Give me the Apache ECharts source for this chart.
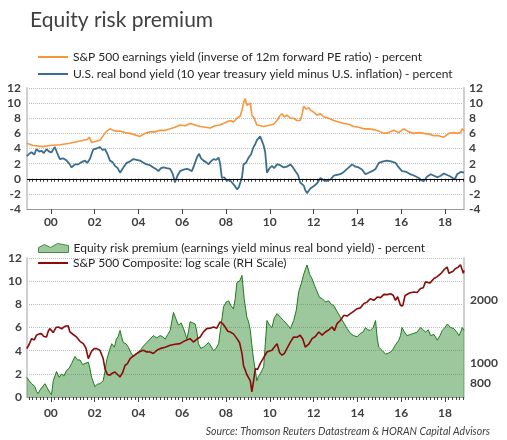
<!DOCTYPE html>
<html>
<head>
<meta charset="utf-8">
<script src="https://cdn.jsdelivr.net/npm/echarts@6/dist/echarts.min.js"></script>
<style>
html, body { margin: 0; padding: 0; background: #fff; }
#main { width: 507px; height: 440px; }
</style>
</head>
<body>
<div id="main"></div>
<script>
// S&P 500 earnings yield (percent)
var egYears = [1998.90,1999.19,1999.65,1999.95,2000.03,2000.41,2000.87,2001.33,2001.66,2001.75,2001.86,2001.94,2002.24,2002.47,2002.55,2002.70,2002.93,2003.16,2003.39,2003.62,2003.84,2004.07,2004.30,2004.53,2004.76,2004.99,2005.22,2005.45,2005.67,2005.90,2006.13,2006.36,2006.59,2006.82,2007.05,2007.28,2007.50,2007.73,2007.96,2008.19,2008.34,2008.50,2008.65,2008.73,2008.83,2008.88,2008.95,2009.03,2009.11,2009.18,2009.29,2009.41,2009.56,2009.72,2009.87,2010.02,2010.17,2010.33,2010.45,2010.56,2010.66,2010.78,2010.94,2011.09,2011.24,2011.39,2011.48,2011.55,2011.67,2011.78,2011.85,2012.00,2012.16,2012.31,2012.46,2012.69,2012.92,2013.15,2013.38,2013.61,2013.83,2014.06,2014.29,2014.52,2014.75,2014.98,2015.21,2015.43,2015.66,2015.89,2016.12,2016.35,2016.58,2016.81,2017.04,2017.28,2017.50,2017.72,2017.95,2018.18,2018.41,2018.56,2018.71,2018.79,2018.87];
var egVals = [4.7,4.4,4.25,4.4,4.2,4.5,4.7,5.0,5.2,5.5,4.8,4.7,5.1,6.0,6.3,6.6,6.3,6.3,6.1,6.0,5.8,5.6,6.0,6.2,6.2,6.4,6.4,6.6,6.8,7.1,7.0,7.3,7.1,6.9,6.8,6.7,7.0,7.1,7.4,7.7,7.5,8.0,8.3,9.1,10.3,10.6,9.7,9.5,10.0,8.4,8.0,7.1,7.0,6.9,7.0,7.1,7.2,7.7,8.3,8.6,8.2,8.4,8.0,8.0,7.7,7.7,8.6,9.6,9.2,9.4,9.1,8.8,8.4,8.6,8.2,8.0,7.7,7.5,7.3,7.2,6.9,6.8,6.6,6.6,6.5,6.3,6.0,6.1,6.4,6.1,6.6,6.2,6.0,6.1,6.0,5.9,5.7,5.7,5.5,6.0,6.1,6.0,6.1,6.6,6.3];

// U.S. real bond yield (percent)
var rbYears = [1998.90,1999.01,1999.12,1999.24,1999.34,1999.47,1999.57,1999.68,1999.80,1999.92,2000.03,2000.18,2000.29,2000.41,2000.56,2000.72,2000.84,2000.95,2001.10,2001.25,2001.40,2001.56,2001.66,2001.78,2001.94,2002.09,2002.24,2002.36,2002.47,2002.58,2002.70,2002.82,2002.93,2003.05,2003.16,2003.31,2003.46,2003.62,2003.77,2003.92,2004.07,2004.23,2004.38,2004.53,2004.68,2004.80,2004.91,2005.03,2005.14,2005.29,2005.45,2005.57,2005.67,2005.78,2005.90,2006.06,2006.21,2006.33,2006.44,2006.56,2006.67,2006.77,2006.86,2006.97,2007.09,2007.20,2007.31,2007.43,2007.55,2007.66,2007.73,2007.81,2007.92,2008.04,2008.16,2008.27,2008.39,2008.50,2008.59,2008.65,2008.73,2008.80,2008.91,2009.03,2009.14,2009.26,2009.34,2009.41,2009.49,2009.56,2009.64,2009.72,2009.79,2009.87,2009.99,2010.10,2010.20,2010.33,2010.48,2010.63,2010.78,2010.94,2011.06,2011.17,2011.29,2011.39,2011.55,2011.62,2011.70,2011.85,2012.00,2012.16,2012.31,2012.46,2012.61,2012.77,2012.92,2013.07,2013.22,2013.38,2013.53,2013.65,2013.76,2013.91,2014.06,2014.22,2014.37,2014.52,2014.67,2014.83,2014.98,2015.18,2015.36,2015.54,2015.74,2015.89,2016.04,2016.24,2016.42,2016.60,2016.81,2016.92,2017.04,2017.19,2017.35,2017.50,2017.65,2017.81,2017.95,2018.10,2018.25,2018.33,2018.44,2018.56,2018.71,2018.87];
var rbVals = [3.0,3.3,3.5,3.2,3.9,3.6,3.7,3.4,3.9,3.6,3.5,4.2,3.4,2.6,2.7,2.4,2.0,1.5,1.9,1.9,2.2,2.4,2.1,2.6,3.9,4.0,4.2,3.8,3.9,3.3,2.4,2.2,1.7,1.4,0.8,1.5,2.1,2.3,2.6,2.5,2.4,2.1,1.9,1.8,1.5,1.3,1.0,1.4,1.5,1.4,1.3,0.6,-0.5,0.4,1.0,1.2,1.3,1.2,1.0,1.9,2.8,3.3,2.7,2.4,2.2,1.9,2.3,2.6,2.5,2.8,2.0,0.1,0.2,-0.3,-0.1,-0.5,-0.9,-1.4,-1.1,-1.0,0.2,1.9,2.1,2.8,3.2,4.2,4.6,5.1,5.3,5.6,5.0,4.4,3.5,0.8,1.4,1.7,1.4,1.9,1.8,1.5,1.6,1.9,1.5,1.0,0.5,-0.5,-0.9,-1.5,-1.9,-1.3,-1.0,-0.6,0.1,-0.2,-0.3,-0.1,0.4,0.5,0.6,0.9,1.3,1.6,1.9,1.6,1.5,1.2,0.6,0.8,1.0,1.3,2.1,2.3,2.4,2.3,2.1,1.5,1.0,0.9,0.6,0.4,0.1,-0.2,-0.3,0.3,0.6,0.4,0.2,0.4,0.7,0.5,0.3,0.1,-0.1,0.6,0.9,0.8];

// Equity risk premium (percent)
var erpYears = [1998.90,1999.01,1999.12,1999.27,1999.34,1999.42,1999.50,1999.57,1999.73,1999.83,1999.95,2000.03,2000.11,2000.26,2000.38,2000.49,2000.59,2000.72,2000.84,2000.95,2001.10,2001.21,2001.33,2001.45,2001.56,2001.71,2001.78,2001.86,2002.01,2002.12,2002.24,2002.39,2002.47,2002.55,2002.67,2002.78,2002.90,2002.99,2003.07,2003.16,2003.23,2003.31,2003.43,2003.54,2003.66,2003.77,2003.92,2004.07,2004.23,2004.38,2004.53,2004.68,2004.84,2004.99,2005.11,2005.22,2005.34,2005.45,2005.52,2005.60,2005.70,2005.83,2005.95,2006.06,2006.15,2006.21,2006.29,2006.36,2006.48,2006.59,2006.67,2006.74,2006.85,2006.97,2007.09,2007.20,2007.31,2007.43,2007.55,2007.66,2007.76,2007.89,2008.01,2008.12,2008.22,2008.34,2008.42,2008.50,2008.62,2008.73,2008.83,2008.95,2009.03,2009.11,2009.18,2009.26,2009.34,2009.41,2009.49,2009.56,2009.64,2009.72,2009.79,2009.87,2009.99,2010.10,2010.20,2010.33,2010.48,2010.63,2010.78,2010.94,2011.09,2011.21,2011.32,2011.44,2011.55,2011.62,2011.70,2011.82,2011.93,2012.05,2012.16,2012.27,2012.39,2012.54,2012.69,2012.81,2012.92,2013.07,2013.22,2013.38,2013.53,2013.68,2013.83,2013.99,2014.14,2014.26,2014.37,2014.47,2014.59,2014.72,2014.83,2014.91,2014.98,2015.14,2015.29,2015.44,2015.59,2015.74,2015.89,2015.97,2016.04,2016.15,2016.27,2016.42,2016.58,2016.73,2016.88,2017.01,2017.11,2017.24,2017.34,2017.50,2017.65,2017.77,2017.88,2018.00,2018.11,2018.26,2018.41,2018.54,2018.64,2018.72,2018.79,2018.87];
var erpVals = [1.7,1.4,1.15,0.9,0.5,0.3,0.6,0.7,1.15,0.8,0.4,0.2,1.4,2.2,1.7,2.0,1.8,2.3,2.5,2.9,3.5,3.2,3.2,2.8,2.9,3.0,2.5,1.7,0.9,1.1,1.15,1.4,2.2,3.2,4.0,4.6,4.3,5.0,5.2,5.75,5.2,4.7,4.6,4.3,3.8,3.5,3.8,4.0,4.4,4.7,5.0,5.3,5.1,5.3,5.2,5.0,5.4,5.75,6.5,7.3,6.8,6.2,6.4,5.9,5.4,5.0,5.7,6.5,6.4,6.3,5.6,4.6,4.2,4.3,4.5,4.7,4.4,4.0,4.2,4.6,6.0,7.8,8.2,8.3,7.9,7.6,8.5,9.9,10.0,10.5,8.5,6.9,6.5,5.75,4.5,3.2,2.3,1.4,1.8,2.0,2.3,2.6,4.5,6.6,6.2,6.0,6.8,7.2,6.9,6.6,6.3,5.9,6.6,7.5,9.1,9.8,10.6,11.0,11.4,10.6,10.2,9.6,9.1,8.6,8.5,8.2,8.3,8.0,7.9,7.4,6.9,6.4,5.9,5.5,5.3,5.2,5.5,5.6,6.0,5.8,5.75,6.0,6.6,5.0,4.3,4.0,3.7,3.8,4.0,4.5,4.9,5.3,6.0,5.6,5.3,5.4,5.5,5.6,6.0,5.8,5.6,5.8,5.3,5.4,4.9,5.3,5.75,6.0,6.3,6.0,5.9,5.6,5.3,5.6,6.0,5.75];

// S&P 500 Composite index level
var spxYears = [1998.90,1999.01,1999.12,1999.24,1999.34,1999.47,1999.57,1999.68,1999.80,1999.88,1999.95,2000.11,2000.23,2000.34,2000.49,2000.64,2000.79,2000.87,2001.02,2001.17,2001.33,2001.48,2001.60,2001.71,2001.86,2001.98,2002.09,2002.24,2002.32,2002.39,2002.47,2002.58,2002.70,2002.82,2002.93,2003.04,2003.16,2003.28,2003.39,2003.49,2003.62,2003.77,2003.92,2004.07,2004.23,2004.38,2004.53,2004.68,2004.84,2004.99,2005.22,2005.45,2005.67,2005.90,2006.13,2006.36,2006.51,2006.67,2006.82,2006.97,2007.12,2007.28,2007.43,2007.58,2007.73,2007.86,2007.96,2008.08,2008.19,2008.34,2008.50,2008.62,2008.73,2008.80,2008.88,2008.95,2009.03,2009.11,2009.18,2009.26,2009.34,2009.44,2009.56,2009.72,2009.87,2009.99,2010.10,2010.20,2010.33,2010.45,2010.56,2010.66,2010.78,2010.94,2011.09,2011.24,2011.39,2011.51,2011.62,2011.78,2011.93,2012.08,2012.24,2012.39,2012.54,2012.69,2012.85,2012.95,2013.07,2013.22,2013.38,2013.53,2013.68,2013.83,2013.99,2014.14,2014.29,2014.44,2014.59,2014.75,2014.91,2015.06,2015.21,2015.36,2015.52,2015.64,2015.74,2015.84,2015.97,2016.07,2016.18,2016.38,2016.58,2016.73,2016.88,2017.01,2017.11,2017.31,2017.50,2017.65,2017.81,2017.95,2018.10,2018.18,2018.25,2018.37,2018.47,2018.59,2018.71,2018.79,2018.84,2018.87];
var spxVals = [1172,1230,1309,1290,1358,1380,1383,1340,1333,1420,1462,1400,1480,1489,1460,1500,1510,1409,1370,1333,1270,1238,1180,1049,1140,1172,1172,1150,1129,1050,939,880,873,895,905,880,857,900,975,990,1049,1080,1109,1135,1150,1130,1129,1110,1150,1172,1190,1216,1230,1238,1280,1309,1260,1300,1333,1410,1462,1470,1489,1470,1574,1540,1489,1420,1409,1380,1309,1250,1109,970,922,880,889,820,726,820,939,930,993,1060,1129,1140,1150,1190,1238,1120,1089,1110,1172,1260,1333,1330,1358,1300,1193,1230,1309,1340,1409,1360,1409,1440,1489,1430,1545,1600,1694,1680,1725,1770,1823,1840,1927,1960,2036,2000,2073,2060,2136,2130,2152,2110,2000,2080,1891,1880,2110,2170,2193,2180,2277,2300,2453,2420,2545,2600,2687,2800,2892,2700,2734,2760,2838,2880,2967,2920,2700,2786];

// axis ticks and labels
var yearLabels = [2000, 2002, 2004, 2006, 2008, 2010, 2012, 2014, 2016, 2018];
var spxLabels = [800, 1000, 2000];
var minorTicks = [];
for (var t = 1999; t < 2018.9; t += 1 / 6) { minorTicks.push(+t.toFixed(3)); }

function pairs(xs, ys) {
    return xs.map(function (x, i) { return [x, ys[i]]; });
}

var myChart = echarts.init(document.getElementById('main'));

var FONT = 'Lato';
var labelStyle = { color: '#404040', fontSize: 12, fontWeight: 'bold', fontFamily: FONT };
var legendText = { color: '#262626', fontSize: 12, fontFamily: FONT, lineHeight: 14 };
var dotted = { show: true, lineStyle: { color: '#bdbdbd', type: 'dotted', width: 1 } };
var edge = { show: true, onZero: false, lineStyle: { color: '#cfcfcf', width: 2 } };

function mainX(grid, margin) {
    return {
        type: 'value', gridIndex: grid, min: 1998.91, max: 2018.87, position: 'bottom',
        axisLine: { show: true, onZero: false, lineStyle: { color: '#9a9a9a', width: 1 } },
        axisTick: { show: true, length: 5, customValues: yearLabels, lineStyle: { color: '#404040' } },
        axisLabel: Object.assign({ customValues: yearLabels, margin: margin,
            formatter: function (v) { return String(Math.round(v) % 100).padStart(2, '0'); } }, labelStyle),
        splitLine: { show: false }
    };
}
function minorX(grid) {
    return {
        type: 'value', gridIndex: grid, min: 1998.91, max: 2018.87, position: 'bottom',
        axisLine: { show: false },
        axisTick: { show: true, length: 3, customValues: minorTicks, lineStyle: { color: '#404040' } },
        axisLabel: { show: false },
        splitLine: { show: false }
    };
}

var option = {
    animation: false,
    backgroundColor: '#fff',
    title: {
        text: 'Equity risk premium',
        left: 25, top: 5,
        textStyle: { color: '#404040', fontSize: 21, fontWeight: 'normal', fontFamily: FONT }
    },
    legend: [
        {
            left: 33, top: 45, orient: 'vertical', itemWidth: 30, itemHeight: 2, itemGap: 3,
            icon: 'rect', textStyle: legendText,
            data: ['S&P 500 earnings yield (inverse of 12m forward PE ratio) - percent',
                   'U.S. real bond yield (10 year treasury yield minus U.S. inflation) - percent']
        },
        {
            left: 33, top: 236, itemWidth: 30, itemHeight: 10, textStyle: legendText,
            data: [
                { name: 'Equity risk premium (earnings yield minus real bond yield) - percent',
                  icon: 'path://M0,5 L6,2 L12,5 L19,1 L30,3 L30,10 L0,10 Z',
                  itemStyle: { color: '#9cc89c', borderColor: '#3f8f3f', borderWidth: 1 } }
            ]
        },
        {
            left: 33, top: 251, itemWidth: 30, itemHeight: 2, icon: 'rect', textStyle: legendText,
            data: [{ name: 'S&P 500 Composite: log scale (RH Scale)', itemStyle: { color: '#8b0a0a' } }]
        }
    ],
    grid: [
        { left: 27, right: 43, top: 88, height: 121 },
        { left: 27, right: 43, top: 258, height: 139 }
    ],
    xAxis: [mainX(0, 7), minorX(0), mainX(1, 10), minorX(1)],
    yAxis: [
        { type: 'value', gridIndex: 0, min: -4, max: 12, interval: 2,
          axisLine: edge, axisTick: { show: false }, splitLine: dotted,
          axisLabel: Object.assign({ margin: 6 }, labelStyle) },
        { type: 'value', gridIndex: 0, min: -4, max: 12, interval: 2, position: 'right',
          axisLine: edge, axisTick: { show: false }, splitLine: { show: false },
          axisLabel: Object.assign({ margin: 5 }, labelStyle) },
        { type: 'value', gridIndex: 1, min: 0, max: 12, interval: 2,
          axisLine: edge, axisTick: { show: false }, splitLine: dotted,
          axisLabel: Object.assign({ margin: 5 }, labelStyle) },
        { type: 'log', gridIndex: 1, min: 686, max: 3195, position: 'right',
          axisLine: edge, axisTick: { show: false }, splitLine: { show: false },
          axisLabel: Object.assign({ margin: 6, customValues: spxLabels,
              formatter: function (v) { return String(Math.round(v)); } }, labelStyle) }
    ],
    series: [
        {
            name: 'S&P 500 earnings yield (inverse of 12m forward PE ratio) - percent',
            type: 'line', xAxisIndex: 0, yAxisIndex: 0, showSymbol: false,
            color: '#f7963d', lineStyle: { width: 1.6, color: '#f7963d' },
            data: pairs(egYears, egVals),
            markLine: { silent: true, symbol: 'none', label: { show: false },
                        lineStyle: { color: '#000', type: 'solid', width: 1 }, data: [{ yAxis: 0 }] }
        },
        {
            name: 'U.S. real bond yield (10 year treasury yield minus U.S. inflation) - percent',
            type: 'line', xAxisIndex: 0, yAxisIndex: 0, showSymbol: false,
            color: '#3b6d8f', lineStyle: { width: 1.8, color: '#3b6d8f' },
            data: pairs(rbYears, rbVals)
        },
        {
            name: 'Equity risk premium (earnings yield minus real bond yield) - percent',
            type: 'line', xAxisIndex: 2, yAxisIndex: 2, showSymbol: false,
            color: '#9cc89c', lineStyle: { width: 1, color: '#1f7a1f' },
            areaStyle: { color: 'rgba(60,145,60,0.5)', opacity: 1 },
            data: pairs(erpYears, erpVals)
        },
        {
            name: 'S&P 500 Composite: log scale (RH Scale)',
            type: 'line', xAxisIndex: 2, yAxisIndex: 3, showSymbol: false,
            color: '#8b0a0a', lineStyle: { width: 1.6, color: '#8b0a0a' },
            data: pairs(spxYears, spxVals)
        }
    ],
    graphic: [
        { type: 'text', right: 17, top: 426,
          style: { text: 'Source: Thomson Reuters Datastream & HORAN Capital Advisors',
                   fill: '#404040', font: 'italic 10.5px ' + FONT } }
    ]
};

myChart.setOption(option);
</script>
</body>
</html>
